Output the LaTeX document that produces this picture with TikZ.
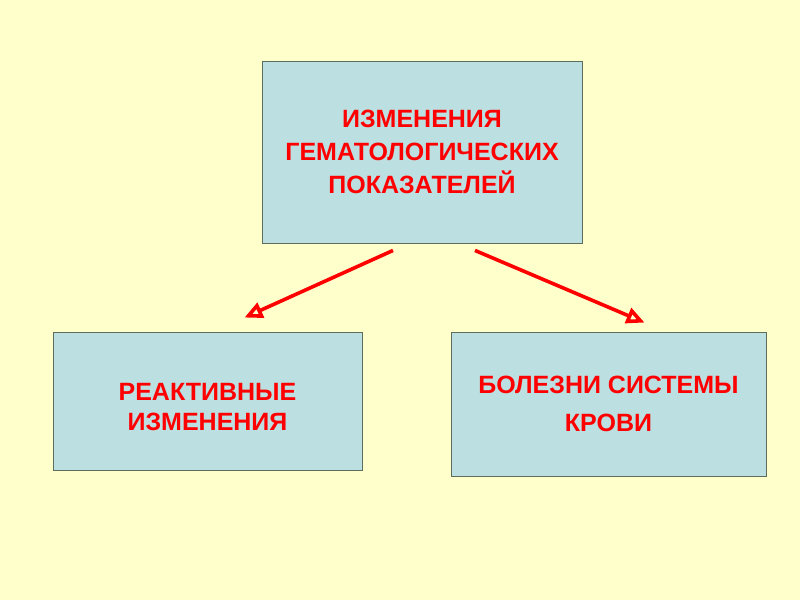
\documentclass[tikz,border=0pt]{standalone}
\usepackage{fontspec}
\setmainfont{Liberation Sans}
\usepackage{tikz}
\usetikzlibrary{arrows.meta,positioning}
\definecolor{slide}{HTML}{FFFFCC}
\definecolor{boxfill}{HTML}{BCE0E2}
\definecolor{boxline}{HTML}{5E6E5E}
\definecolor{accent}{HTML}{FF0000}

\begin{document}
\begin{tikzpicture}[x=1pt,y=-1pt,
 box/.style={draw=boxline,fill=boxfill,line width=0.9pt,align=center,text=accent,
   font=\fontsize{25}{33}\selectfont\bfseries,inner sep=0pt},
 arr/.style={-{Triangle[open,length=18pt,width=16pt]},line width=3.6pt,draw=accent}]
\fill[slide] (0,0) rectangle (800,600);
\useasboundingbox (0,0) rectangle (800,600);
\node[box,minimum width=320pt,minimum height=182pt] (changes) at (422,152)
  {ИЗМЕНЕНИЯ\\ГЕМАТОЛОГИЧЕСКИХ\\ПОКАЗАТЕЛЕЙ};
\node[box,minimum width=309pt,minimum height=138pt] (reactive) at (207.5,401)
  {\raisebox{-14.5pt}[0pt][0pt]{\begin{tabular}{@{}c@{}}РЕАКТИВНЫЕ\\[-3pt]ИЗМЕНЕНИЯ\end{tabular}}};
\node[box,minimum width=315pt,minimum height=144pt] (blood) at (608.5,404)
  {БОЛЕЗНИ СИСТЕМЫ\\[5pt]КРОВИ};
\draw[arr] ([xshift=-29pt,yshift=-7pt]changes.south)--([xshift=37pt,yshift=14pt]reactive.north);
\draw[arr] ([xshift=53pt,yshift=-7pt]changes.south)--([xshift=36pt,yshift=9pt]blood.north);
\end{tikzpicture}
\end{document}
